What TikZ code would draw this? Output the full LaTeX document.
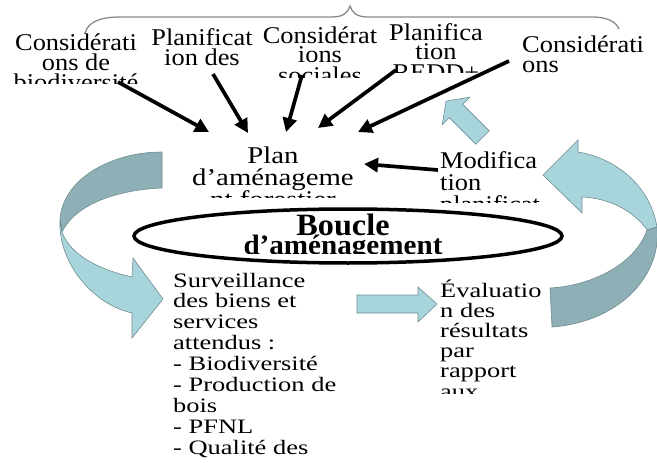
\documentclass[tikz,border=0pt]{standalone}
\usepackage{fontspec}
\setmainfont{Liberation Serif}
\newfontfamily\fTop[FakeStretch=1.1]{Liberation Serif}
\newfontfamily\fPlan[FakeStretch=1.2]{Liberation Serif}
\newfontfamily\fBody[FakeStretch=1.29]{Liberation Serif}
\newfontfamily\fLoop[FakeStretch=1.04]{Liberation Serif}
\usetikzlibrary{arrows.meta,shapes.geometric}
\definecolor{lightband}{HTML}{A8D5DC}
\definecolor{darkband}{HTML}{8EAFB5}
\definecolor{bandline}{HTML}{6E8C91}
\definecolor{bracegray}{HTML}{8A8A8A}
\setlength{\lineskiplimit}{-100pt}
\begin{document}
\begin{tikzpicture}[x=1pt,y=-1pt,
  toptext/.style={inner sep=0pt, font=\fTop\fontsize{24}{20}\selectfont},
  plantext/.style={inner sep=0pt, font=\fPlan\fontsize{24}{22}\selectfont},
  modtext/.style={inner sep=0pt, font=\fTop\fontsize{24}{22}\selectfont},
  bodytext/.style={inner sep=0pt, font=\fBody\fontsize{20.5}{20.9}\selectfont},
  evaltext/.style={inner sep=0pt, font=\fBody\fontsize{20.5}{20.2}\selectfont},
  looptext/.style={inner sep=0pt, font=\fLoop\bfseries\fontsize{28}{19}\selectfont},
  bigarrow/.style={line width=3.7pt, -{Triangle[length=14pt,width=14pt]}},
  bandlight/.style={fill=lightband, draw=bandline, line width=0.6pt},
  banddark/.style={fill=darkband, draw=bandline, line width=0.6pt},
  bracestyle/.style={draw=bracegray, line width=1.3pt}
]
\useasboundingbox (0,0) rectangle (657,463);

% top brace
\draw[bracestyle] (85,33) .. controls (88,22) and (100,17) .. (120,17) -- (332,17)
  .. controls (344,17) and (348,12) .. (350,6) .. controls (352,12) and (356,17) .. (368,17)
  -- (592,17) .. controls (608,17) and (616,22) .. (619,29);

% top texts (anchor base = baseline of the last line)
\begin{scope}
  \clip (0,0) rectangle (150,83);
  \node[toptext, align=center, anchor=base] (c1) at (76,90) {Considérati\\ons de\\biodiversité};
\end{scope}
\node[toptext, align=center, anchor=base] (c2) at (202,65) {Planificat\\ion des};
\begin{scope}
  \clip (250,0) rectangle (390,77);
  \node[toptext, align=center, anchor=base] (c3) at (320,83) {Considérat\\ions\\sociales};
\end{scope}
\begin{scope}
  \clip (380,0) rectangle (500,72);
  \node[toptext, align=center, anchor=base] (c4) at (436,80) {Planifica\\tion\\REDD+};
\end{scope}
\node[toptext, align=left, anchor=base west] (c5) at (522,72) {Considérati\\ons};

% plan
\begin{scope}
  \clip (150,100) rectangle (400,197);
  \node[plantext, align=center, anchor=base] (plan) at (273,207) {Plan\\d’aménageme\\nt forestier};
\end{scope}

% modification
\begin{scope}
  \clip (430,140) rectangle (560,202);
  \node[modtext, align=left, anchor=base west] (modif) at (440,212) {Modifica\\tion\\planificat};
\end{scope}

% black arrows
\coordinate (s1) at (118,82);  \coordinate (e1) at (209,132);
\coordinate (s2) at (213,74);  \coordinate (e2) at (248,133);
\coordinate (s3) at (302,75);  \coordinate (e3) at (286,132);
\coordinate (s4) at (396,70);  \coordinate (e4) at (318,128);
\coordinate (s5) at (509,61);  \coordinate (e5) at (358,132);
\coordinate (s6) at (438,170); \coordinate (e6) at (364,164);
\draw[bigarrow] (s1) -- (e1);
\draw[bigarrow] (s2) -- (e2);
\draw[bigarrow] (s3) -- (e3);
\draw[bigarrow] (s4) -- (e4);
\draw[bigarrow] (s5) -- (e5);
\draw[bigarrow] (s6) -- (e6);

% small up-left block arrow
\draw[bandlight] (489.2,130.8) -- (462.7,104.3) -- (469.8,97.2) -- (446.1,101.1)
  -- (442.2,124.8) -- (449.3,117.7) -- (475.8,144.2) -- cycle;

% left curved arrow
\draw[banddark] (162,152) .. controls (110,152) and (62,180) .. (60,220) -- (62,232)
  .. controls (75,205) and (115,190) .. (162,188) -- cycle;
\draw[bandlight] (60,220) .. controls (58,265) and (95,305) .. (132,313) -- (132,338)
  -- (163,299) -- (133,258) -- (132,277) .. controls (100,270) and (70,255) .. (62,232) -- cycle;

% right curved arrow
\draw[bandlight] (578,152) .. controls (615,158) and (650,185) .. (657,227) -- (647,230)
  .. controls (635,212) and (610,198) .. (582,197) -- (582,213) -- (543,175) -- (578,140) -- cycle;
\draw[banddark] (550,288) .. controls (590,286) and (635,265) .. (647,230) -- (657,227)
  .. controls (662,275) and (620,322) .. (552,327) -- cycle;

% loop ellipse
\node[draw, ellipse, line width=3.5pt, minimum width=428pt, minimum height=54pt, inner sep=0pt] (loop) at (348,236) {};
\begin{scope}
  \clip (200,205) rectangle (500,253);
  \node[looptext, align=center, anchor=base] (boucle) at (343,254) {{\fontsize{31}{19}\selectfont Boucle}\\d’aménagement};
\end{scope}

% bottom right block arrow
\draw[bandlight] (357,295) -- (418,295) -- (418,287) -- (437,304) -- (418,322) -- (418,313) -- (357,313) -- cycle;

% surveillance
\node[bodytext, align=left, anchor=base west] (surv) at (173,454.2)
  {Surveillance\\des biens et\\services\\attendus :\\- Biodiversité\\- Production de\\bois\\- PFNL\\- Qualité des};

% evaluation
\begin{scope}
  \clip (430,270) rectangle (560,393);
  \node[evaltext, align=left, anchor=base west] (eval) at (440,398)
    {Évaluatio\\n des\\résultats\\par\\rapport\\aux};
\end{scope}
\end{tikzpicture}
\end{document}
